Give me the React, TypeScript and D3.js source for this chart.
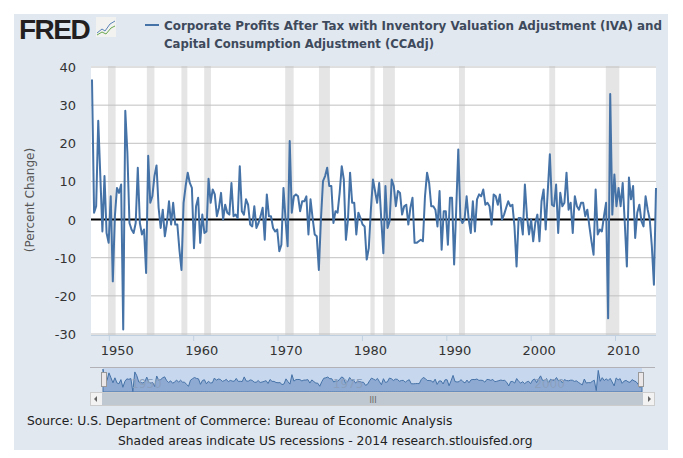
import React, { useEffect, useRef } from "react";
import * as d3 from "d3";

// quarterly percent change, 1947Q2 onward
const values: number[] = [
  36.7, 1.8, 3.5, 25.9, 11.4, -3.1, 11.4, -3.5, -6.1, 6.1, -16.2, 0.9, 8.3, 7.0, 9.2, -28.8,
  28.5, 17.5, -0.9, -2.6, -3.5, -0.9, 13.6, -0.9, -3.9, -2.6, -14.0, 16.7, 4.4, 6.1, 11.4, 14.2,
  3.1, -2.2, 2.6, -4.4, -0.9, 4.8, -1.3, 4.4, -1.3, -1.3, -7.9, -13.2, 4.4, 8.8, 12.3, 9.6,
  8.3, -7.5, 3.5, 5.7, -6.1, 1.3, -3.5, -3.1, 10.7, 4.4, 7.9, 6.6, 0.9, 3.1, 7.0, 0,
  3.9, 1.8, 1.3, 9.6, 0.9, 1.3, 0.4, 14.0, 2.2, 1.3, 5.3, 3.9, -1.3, -1.8, 3.5, -2.2,
  -0.9, 0.9, 3.1, -5.3, 6.6, 0.9, 0.9, -2.2, -3.1, -2.6, -8.3, -6.6, 8.3, 0, -7.0, 20.6,
  1.8, 6.1, 6.6, 6.1, 2.2, 4.8, 4.8, 6.1, -3.9, 5.3, 0.4, -3.9, -4.4, -13.2, 0, 10.1,
  11.4, 13.6, 8.8, 8.8, -0.9, 2.2, 1.8, 7.0, 14.0, 10.5, -5.3, 0, 12.3, 4.4, 4.4, -3.9,
  1.8, 0.4, -1.3, -1.8, -10.5, -7.5, 2.6, 10.5, 7.5, 4.4, 9.6, 0, -8.8,
  8.8, -2.2, -0.4, 10.5, 8.8, 3.5, 7.5, 7.0, 1.3, 3.5, 3.9, -1.3, 3.1, 5.7, -6.1, -6.1,
  -5.7, -5.3, -5.7, 6.1, 12.3, 9.6, 3.5, 3.5, 2.6, -1.8, 7.5, -7.9, 2.2, 2.2, -6.6, 5.7,
  5.7, -11.8, 2.6, 18.4, 0.4, -0.9, 0, 6.1, 0, -3.5, 4.8, -3.1, 5.3, 6.6, 6.1, 7.9,
  3.9, 4.4, 3.5, -1.3, 6.6, 6.1, 3.9, 6.6, 0, 1.3, 3.1, 4.8, 3.5, 3.9, -1.8, -12.3,
  0.4, 0.4, -3.9, 9.2, 0.9, -3.9, 0, -5.7, -0.9, 1.3, -5.7, 4.8, 7.9, -2.6, 7.5, 17.1,
  3.9, 3.5, 9.2, -3.5, 7.0, 3.5, 4.4, 12.3, 2.6, 4.4, -3.5, 6.1, 3.5, 2.6, 4.4, 4.4,
  0.9, 2.6, -1.8, -5.7, -9.2, 7.9, -3.9, -2.6, -3.1, 0.9, 4.4, -25.9, 32.9, 1.3, 11.8, 3.5,
  8.3, 3.5, 9.6, -0.9, -12.3, 11.0, 5.3, 8.8, -4.8, 1.8, 3.9, -0.4, -1.8, 6.1, 2.6, 0,
  -7.0, -17.1, 8.3,
];
const firstYear = 1947.0;
const lastYear = 2013.85;

const recessions: [number, number][] = [
  [1948.9, 1949.8], [1953.5, 1954.4], [1957.6, 1958.3], [1960.3, 1961.1], [1969.9, 1970.9],
  [1973.9, 1975.2], [1980.0, 1980.5], [1981.5, 1982.9], [1990.5, 1991.2], [2001.2, 2001.9],
  [2007.9, 2009.5],
];
const yTicks = [-30, -20, -10, 0, 10, 20, 30, 40];
const xTicks = [1950, 1960, 1970, 1980, 1990, 2000, 2010];
const navTicks = [1950, 1975, 2000];

const App: React.FC = () => {
  const svgRef = useRef<SVGSVGElement>(null);

  useEffect(() => {
    const svg = d3.select(svgRef.current);
    svg.selectAll("*").remove();
    const font = "'DejaVu Sans', Verdana, sans-serif";
    const left = 91, right = 656, top = 66, bottom = 335;
    const step = (lastYear - firstYear) / (values.length - 1);
    const data = values.map((v, i) => ({ t: firstYear + i * step, v }));

    svg.append("rect").attr("x", 14).attr("y", 14).attr("width", 654).attr("height", 437).attr("fill", "#e1e8f0");

    // header
    svg.append("text").attr("x", 19).attr("y", 39).attr("font-family", "'Liberation Sans', Arial").attr("font-weight", "bold")
      .attr("font-size", 28).attr("fill", "#231f20").attr("letter-spacing", -1.5).text("FRED");
    svg.append("rect").attr("x", 96).attr("y", 17).attr("width", 20).attr("height", 20).attr("fill", "#f2f2f0");
    svg.append("path").attr("d", "M97,33 L102,29 L105,31 L110,24 L115,21").attr("fill", "none").attr("stroke", "#5a84b8").attr("stroke-width", 1);
    svg.append("path").attr("d", "M97,35 L102,32 L106,34 L111,28 L115,26").attr("fill", "none").attr("stroke", "#6aa84f").attr("stroke-width", 1);
    svg.append("line").attr("x1", 145).attr("x2", 159).attr("y1", 25).attr("y2", 25).attr("stroke", "#4572a7").attr("stroke-width", 2);
    const tf = "'DejaVu Sans Condensed', 'Liberation Sans Narrow', sans-serif";
    svg.append("text").attr("x", 164).attr("y", 30).attr("font-family", tf).attr("font-weight", "bold").attr("font-size", 13).attr("fill", "#3e4a5c")
      .attr("textLength", 498).attr("lengthAdjust", "spacingAndGlyphs")
      .text("Corporate Profits After Tax with Inventory Valuation Adjustment (IVA) and");
    svg.append("text").attr("x", 164).attr("y", 48).attr("font-family", tf).attr("font-weight", "bold").attr("font-size", 13).attr("fill", "#3e4a5c")
      .attr("textLength", 270).attr("lengthAdjust", "spacingAndGlyphs")
      .text("Capital Consumption Adjustment (CCAdj)");

    // plot
    const x = d3.scaleLinear().domain([firstYear, lastYear]).range([left + 1, right]);
    const y = d3.scaleLinear().domain([-30, 40]).range([bottom - 1, 67]);
    svg.append("rect").attr("x", left).attr("y", top).attr("width", right - left).attr("height", bottom - top).attr("fill", "#fff");
    svg.append("g").selectAll("rect").data(recessions).enter().append("rect")
      .attr("x", d => x(d[0])).attr("width", d => x(d[1]) - x(d[0])).attr("y", top).attr("height", bottom - top).attr("fill", "#e5e5e5");
    svg.append("g").selectAll("line").data(yTicks.filter(t => t !== 0)).enter().append("line")
      .attr("x1", left).attr("x2", right).attr("y1", d => y(d)).attr("y2", d => y(d)).attr("stroke", "#c0c0c0").attr("stroke-width", 1);
    svg.append("g").selectAll("text").data(yTicks).enter().append("text")
      .attr("x", 76).attr("y", d => y(d) + 5).attr("text-anchor", "end").attr("font-family", font).attr("font-size", 13).attr("fill", "#333")
      .text(d => d);
    svg.append("text").attr("transform", "translate(34,200) rotate(-90)").attr("text-anchor", "middle").attr("font-family", font)
      .attr("font-size", 12).attr("fill", "#555").text("(Percent Change)");
    svg.append("line").attr("x1", left).attr("x2", right).attr("y1", y(0)).attr("y2", y(0)).attr("stroke", "#000").attr("stroke-width", 2);
    svg.append("path").datum(data)
      .attr("d", d3.line<{ t: number; v: number }>().x(d => x(d.t)).y(d => y(d.v)))
      .attr("fill", "none").attr("stroke", "#4572a7").attr("stroke-width", 2).attr("stroke-linejoin", "round");
    svg.append("line").attr("x1", left).attr("x2", right).attr("y1", bottom + 0.5).attr("y2", bottom + 0.5).attr("stroke", "#c0d0e0");
    const xg = svg.append("g");
    xg.selectAll("line").data(xTicks).enter().append("line")
      .attr("x1", d => x(d) - 8).attr("x2", d => x(d) - 8).attr("y1", bottom).attr("y2", bottom + 6).attr("stroke", "#c0d0e0");
    xg.selectAll("text").data(xTicks).enter().append("text")
      .attr("x", d => x(d)).attr("y", 355).attr("text-anchor", "middle").attr("font-family", font).attr("font-size", 13).attr("fill", "#333")
      .text(d => d);

    // navigator
    const nx = d3.scaleLinear().domain([firstYear, lastYear]).range([103, 642]);
    const ny = d3.scaleLinear().domain([-30, 40]).range([392, 368]);
    svg.append("line").attr("x1", 90).attr("x2", 655).attr("y1", 367.5).attr("y2", 367.5).attr("stroke", "#b2b1b6");
    svg.append("rect").attr("x", 103).attr("y", 368).attr("width", 539).attr("height", 24).attr("fill", "#c6d7ee");
    svg.append("path").datum(data)
      .attr("d", d3.area<{ t: number; v: number }>().x(d => nx(d.t)).y0(392).y1(d => ny(d.v)))
      .attr("fill", "#8eaad3").attr("stroke", "#4572a7").attr("stroke-width", 1);
    svg.append("g").selectAll("text").data(navTicks).enter().append("text")
      .attr("x", d => nx(d) + 4).attr("y", 388).attr("font-family", font).attr("font-size", 12).attr("fill", "#8ba0bd").text(d => d);
    [101, 638].forEach(hx => {
      svg.append("rect").attr("x", hx + 0.5).attr("y", 372.5).attr("width", 5).attr("height", 14).attr("fill", "#ebe7e8").attr("stroke", "#999");
    });
    svg.append("rect").attr("x", 90.5).attr("y", 392.5).attr("width", 564).attr("height", 13).attr("fill", "#f2f2f2").attr("stroke", "#ccc");
    svg.append("rect").attr("x", 102).attr("y", 393).attr("width", 541).attr("height", 12).attr("fill", "#bfc8d1");
    svg.append("text").attr("x", 373).attr("y", 403).attr("text-anchor", "middle").attr("font-size", 8).attr("fill", "#666").attr("font-family", font).text("III");
    svg.append("path").attr("d", "M94,399 L97,396 L97,402Z").attr("fill", "#666");
    svg.append("path").attr("d", "M648,396 L651,399 L648,402Z").attr("fill", "#666");

    // footer
    svg.append("text").attr("x", 27).attr("y", 425).attr("font-family", font).attr("font-size", 12.3).attr("fill", "#222")
      .text("Source: U.S. Department of Commerce: Bureau of Economic Analysis");
    svg.append("text").attr("x", 118).attr("y", 445).attr("font-family", font).attr("font-size", 12.3).attr("fill", "#222")
      .text("Shaded areas indicate US recessions - 2014 research.stlouisfed.org");
  }, []);

  return (
    <div style={{ margin: -8 }}>
      <svg ref={svgRef} width={683} height={458} style={{ display: "block" }}></svg>
    </div>
  );
};

export default App;
